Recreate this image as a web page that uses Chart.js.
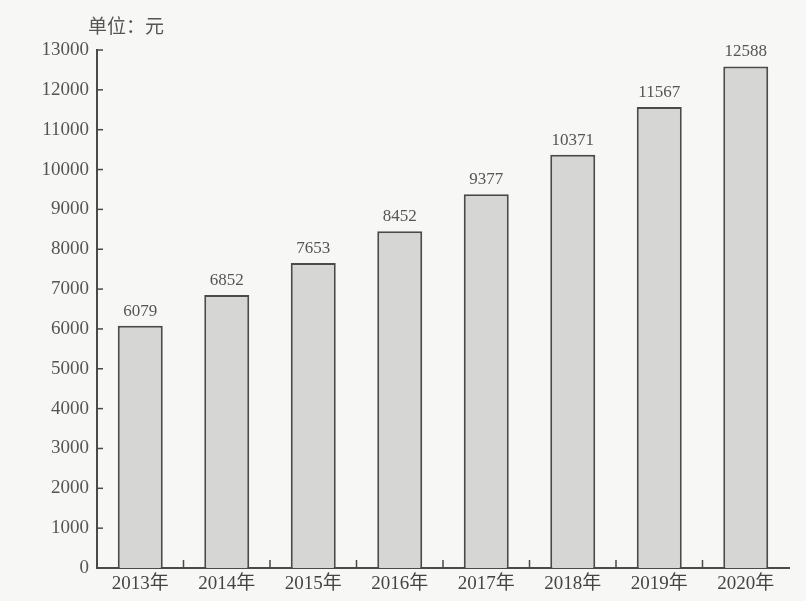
<!DOCTYPE html>
<html>
<head>
<meta charset="utf-8">
<script src="https://cdn.jsdelivr.net/npm/chart.js@4"></script>
<style>
  body { margin: 0; background: #f7f7f5; }
  #wrap { width: 806px; height: 601px; }
</style>
</head>
<body>
<div id="wrap"><canvas id="chart" width="806" height="601"></canvas></div>
<script>
const years = ['2013年', '2014年', '2015年', '2016年', '2017年', '2018年', '2019年', '2020年'];
const values = [6079, 6852, 7653, 8452, 9377, 10371, 11567, 12588];
const unitLabel = '单位：元';

const serif = '"Liberation Serif", "DejaVu Serif", "Noto Sans CJK SC", serif';
const ink = '#4a4a4a';

// valeurs au-dessus des barres + unité + petites graduations
const extras = {
  id: 'extras',
  afterDatasetsDraw(chart) {
    const ctx = chart.ctx;
    const meta = chart.getDatasetMeta(0);
    ctx.save();
    ctx.fillStyle = '#555';
    ctx.font = '17px ' + serif;
    ctx.textAlign = 'center';
    ctx.textBaseline = 'bottom';
    meta.data.forEach((bar, i) => {
      ctx.fillText(String(values[i]), bar.x, bar.y - 6);
    });

    ctx.font = '19px ' + serif;
    ctx.textAlign = 'left';
    ctx.fillText(unitLabel, 88, 38);

    // graduations de l'axe y, côté intérieur
    const y = chart.scales.y;
    const area = chart.chartArea;
    ctx.strokeStyle = ink;
    ctx.lineWidth = 1.5;
    y.ticks.forEach(t => {
      const py = y.getPixelForValue(t.value);
      ctx.beginPath();
      ctx.moveTo(area.left, py);
      ctx.lineTo(area.left + 6, py);
      ctx.stroke();
    });
    // graduations de l'axe x entre les catégories
    const x = chart.scales.x;
    for (let i = 1; i < years.length; i++) {
      const px = (x.getPixelForValue(i - 1) + x.getPixelForValue(i)) / 2;
      ctx.beginPath();
      ctx.moveTo(px, area.bottom);
      ctx.lineTo(px, area.bottom - 8);
      ctx.stroke();
    }
    ctx.restore();
  }
};

new Chart(document.getElementById('chart'), {
  type: 'bar',
  data: {
    labels: years,
    datasets: [{
      data: values,
      backgroundColor: '#d6d6d4',
      borderColor: ink,
      borderWidth: 2,
      borderSkipped: 'bottom',
      barPercentage: 0.52,
      categoryPercentage: 1
    }]
  },
  options: {
    responsive: false,
    animation: false,
    layout: { padding: { top: 50, right: 17, left: 0, bottom: 0 } },
    plugins: {
      legend: { display: false },
      tooltip: { enabled: false }
    },
    scales: {
      x: {
        grid: { display: false, drawTicks: false },
        border: { display: true, color: ink, width: 2 },
        ticks: { color: '#444', font: { family: serif, size: 19 }, padding: 5, maxRotation: 0 },
        afterFit(s) { s.height = 33; }
      },
      y: {
        min: 0,
        max: 13000,
        grid: { display: false, drawTicks: false },
        border: { display: true, color: ink, width: 2 },
        ticks: {
          stepSize: 1000,
          color: '#555',
          font: { family: serif, size: 19 },
          padding: 8,
          callback: v => String(v)
        },
        afterFit(s) { s.width = 97; }
      }
    }
  },
  plugins: [extras]
});
</script>
</body>
</html>
